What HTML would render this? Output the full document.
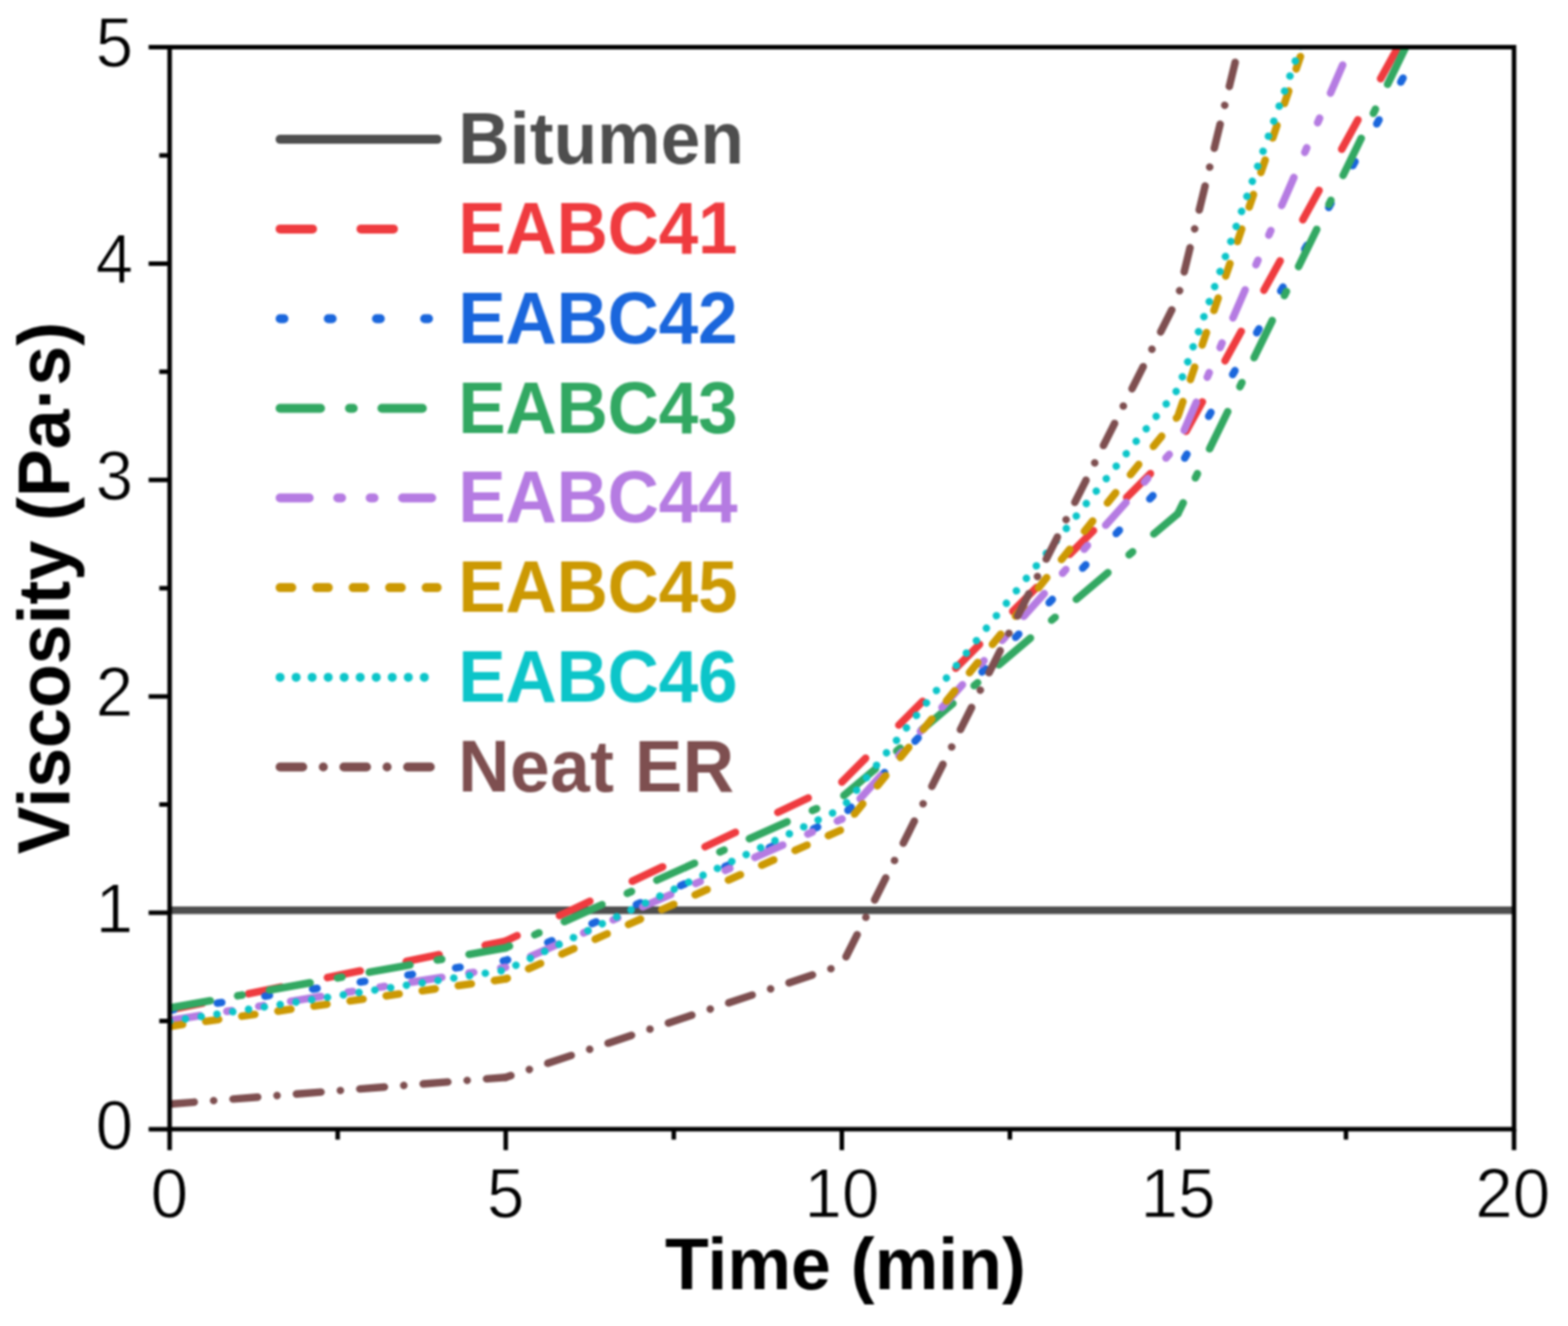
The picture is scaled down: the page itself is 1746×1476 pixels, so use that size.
<!DOCTYPE html>
<html lang="en"><head><meta charset="utf-8"><title>Viscosity vs Time</title>
<style>
html,body{margin:0;padding:0;background:#fff;}
body{width:1746px;height:1476px;overflow:hidden;}
svg{display:block;}
text{font-family:"Liberation Sans",sans-serif;}
.tick{font-size:75px;fill:#000;stroke:#fff;stroke-width:1;stroke-linejoin:round;}
.title{font-size:79.75px;font-weight:bold;fill:#000;}
.leg{font-size:79.2px;font-weight:bold;}
.curve{fill:none;stroke-width:8.4;stroke-linecap:round;}
.samp{fill:none;stroke-width:10;stroke-linecap:round;}
.ax{stroke:#000;stroke-width:5;fill:none;stroke-linecap:butt;stroke-linejoin:miter;}
</style></head><body>
<svg width="1746" height="1476" viewBox="0 0 1746 1476" role="img" aria-label="Viscosity versus time chart">
<defs><clipPath id="plot"><rect x="188.9" y="52.5" width="1497" height="1204.4"/></clipPath>
<filter id="soft" color-interpolation-filters="sRGB" filterUnits="userSpaceOnUse" x="-20" y="-20" width="1786" height="1516"><feGaussianBlur stdDeviation="0.8"/></filter></defs>
<g filter="url(#soft)">
<rect x="-20" y="-20" width="1786" height="1516" fill="#ffffff"/>
<g clip-path="url(#plot)">
<path class="curve" d="M188.90,1013.20 H1685.90" stroke="#4E4E4E" stroke-width="9.2" stroke-linecap="butt"/>
<path class="curve" d="M188.90,1124.20 L563.15,1047.50" stroke="#EF3B3F" stroke-dasharray="37.4 52.25"/>
<path class="curve" d="M563.15,1047.50 L937.40,870.50" stroke="#EF3B3F" stroke-dasharray="37.4 52.25" stroke-dashoffset="23.43"/>
<path class="curve" d="M937.40,870.50 L1311.65,496.70" stroke="#EF3B3F" stroke-dasharray="37.4 52.25" stroke-dashoffset="89.62"/>
<path class="curve" d="M1311.65,496.70 L1573.25,22.50" stroke="#EF3B3F" stroke-dasharray="37.4 52.25" stroke-dashoffset="70.68"/>
<path class="curve" d="M188.90,1124.50 L563.15,1069.20" stroke="#1A66DC" stroke-dasharray="5 48.65"/>
<path class="curve" d="M563.15,1069.20 L937.40,909.00" stroke="#1A66DC" stroke-dasharray="5 48.65" stroke-dashoffset="2.76"/>
<path class="curve" d="M937.40,909.00 L1311.65,523.00" stroke="#1A66DC" stroke-dasharray="5 48.65" stroke-dashoffset="43.91"/>
<path class="curve" d="M1311.65,523.00 L1599.34,22.50" stroke="#1A66DC" stroke-dasharray="5 48.65" stroke-dashoffset="38.55"/>
<path class="curve" d="M188.90,1122.00 L563.15,1055.00" stroke="#32A862" stroke-dasharray="46 30.9 5.1 30.9"/>
<path class="curve" d="M563.15,1055.00 L937.40,887.50" stroke="#32A862" stroke-dasharray="46 30.9 5.1 30.9" stroke-dashoffset="41.50"/>
<path class="curve" d="M937.40,887.50 L1311.65,571.70" stroke="#32A862" stroke-dasharray="46 30.9 5.1 30.9" stroke-dashoffset="109.92"/>
<path class="curve" d="M1311.65,571.70 L1579.96,22.50" stroke="#32A862" stroke-dasharray="46 30.9 5.1 30.9" stroke-dashoffset="32.61"/>
<path class="curve" d="M188.90,1135.80 L563.15,1076.70" stroke="#B57BE2" stroke-dasharray="34 30.47 5.5 30.47 5.5 30.46"/>
<path class="curve" d="M563.15,1076.70 L937.40,911.70" stroke="#B57BE2" stroke-dasharray="34 30.47 5.5 30.47 5.5 30.46" stroke-dashoffset="106.09"/>
<path class="curve" d="M937.40,911.70 L1311.65,495.00" stroke="#B57BE2" stroke-dasharray="34 30.47 5.5 30.47 5.5 30.46" stroke-dashoffset="105.90"/>
<path class="curve" d="M1311.65,495.00 L1516.72,22.50" stroke="#B57BE2" stroke-dasharray="34 30.47 5.5 30.47 5.5 30.46" stroke-dashoffset="118.89"/>
<path class="curve" d="M188.90,1142.50 L563.15,1089.70" stroke="#CC9903" stroke-dasharray="14.6 25.98"/>
<path class="curve" d="M563.15,1089.70 L937.40,923.50" stroke="#CC9903" stroke-dasharray="14.6 25.98" stroke-dashoffset="12.74"/>
<path class="curve" d="M937.40,923.50 L1311.65,463.30" stroke="#CC9903" stroke-dasharray="14.6 25.98" stroke-dashoffset="18.23"/>
<path class="curve" d="M1311.65,463.30 L1461.82,22.50" stroke="#CC9903" stroke-dasharray="14.6 25.98" stroke-dashoffset="37.98"/>
<path class="curve" d="M188.90,1136.90 L563.15,1079.90" stroke="#0CC5C9" stroke-dasharray="0.01 17.77"/>
<path class="curve" d="M563.15,1079.90 L937.40,900.00" stroke="#0CC5C9" stroke-dasharray="0.01 17.77" stroke-dashoffset="5.19"/>
<path class="curve" d="M937.40,900.00 L1311.65,433.30" stroke="#0CC5C9" stroke-dasharray="0.01 17.77" stroke-dashoffset="9.39"/>
<path class="curve" d="M1311.65,433.30 L1458.63,22.50" stroke="#0CC5C9" stroke-dasharray="0.01 17.77" stroke-dashoffset="3.09"/>
<path class="curve" d="M188.90,1229.00 L563.15,1199.20" stroke="#7E4F50" stroke-dasharray="27.5 21.65 0.01 21.64"/>
<path class="curve" d="M563.15,1199.20 L937.40,1074.30" stroke="#7E4F50" stroke-dasharray="27.5 21.65 0.01 21.64" stroke-dashoffset="21.43"/>
<path class="curve" d="M937.40,1074.30 L1311.65,331.30" stroke="#7E4F50" stroke-dasharray="27.5 21.65 0.01 21.64" stroke-dashoffset="60.38"/>
<path class="curve" d="M1311.65,331.30 L1386.80,22.50" stroke="#7E4F50" stroke-dasharray="27.5 21.65 0.01 21.64" stroke-dashoffset="41.21"/>
</g>
<rect class="ax" x="188.9" y="52.5" width="1497" height="1204.4"/>
<path class="ax" d="M188.90,1256.90 V1280.30 M376.02,1256.90 V1268.40 M563.15,1256.90 V1280.30 M750.27,1256.90 V1268.40 M937.40,1256.90 V1280.30 M1124.53,1256.90 V1268.40 M1311.65,1256.90 V1280.30 M1498.78,1256.90 V1268.40 M1685.90,1256.90 V1280.30 M188.90,1256.90 H165.50 M188.90,1136.46 H177.40 M188.90,1016.02 H165.50 M188.90,895.58 H177.40 M188.90,775.14 H165.50 M188.90,654.70 H177.40 M188.90,534.26 H165.50 M188.90,413.82 H177.40 M188.90,293.38 H165.50 M188.90,172.94 H177.40 M188.90,52.50 H165.50"/>
<text class="tick" transform="translate(188.50,1354.90) scale(1,1.04)" text-anchor="middle">0</text>
<text class="tick" transform="translate(563.15,1354.90) scale(1,1.04)" text-anchor="middle">5</text>
<text class="tick" transform="translate(937.40,1354.90) scale(1,1.04)" text-anchor="middle">10</text>
<text class="tick" transform="translate(1311.65,1354.90) scale(1,1.04)" text-anchor="middle">15</text>
<text class="tick" transform="translate(1684.40,1354.90) scale(1,1.04)" text-anchor="middle">20</text>
<text class="tick" transform="translate(148.20,1278.70) scale(1,1.04)" text-anchor="end">0</text>
<text class="tick" transform="translate(148.20,1037.82) scale(1,1.04)" text-anchor="end">1</text>
<text class="tick" transform="translate(148.20,796.94) scale(1,1.04)" text-anchor="end">2</text>
<text class="tick" transform="translate(148.20,556.06) scale(1,1.04)" text-anchor="end">3</text>
<text class="tick" transform="translate(148.20,315.18) scale(1,1.04)" text-anchor="end">4</text>
<text class="tick" transform="translate(148.20,74.30) scale(1,1.04)" text-anchor="end">5</text>
<text class="title" transform="translate(941.40,1434.60) scale(1,1.015)" text-anchor="middle">Time (min)</text>
<text class="title" transform="translate(76.70,654.50) rotate(-90) scale(1,1.015)" text-anchor="middle">Viscosity (Pa·s)</text>
<path class="samp" d="M311.90,155.10 H486.80" stroke="#4E4E4E"/>
<text class="leg" transform="translate(510.30,182.10) scale(1,1.025)" fill="#4E4E4E" letter-spacing="0.2">Bitumen</text>
<path class="samp" d="M311.90,254.90 H486.80" stroke="#EF3B3F" stroke-dasharray="36.1 54"/>
<text class="leg" transform="translate(510.30,281.90) scale(1,1.04)" fill="#EF3B3F" letter-spacing="-0.3">EABC41</text>
<path class="samp" d="M311.90,354.70 H486.80" stroke="#1A66DC" stroke-dasharray="4.3 49.35"/>
<text class="leg" transform="translate(510.30,381.70) scale(1,1.04)" fill="#1A66DC" letter-spacing="-0.3">EABC42</text>
<path class="samp" d="M311.90,454.50 H486.80" stroke="#32A862" stroke-dasharray="45 32.3 4.1 32"/>
<text class="leg" transform="translate(510.30,481.50) scale(1,1.04)" fill="#32A862" letter-spacing="-0.3">EABC43</text>
<path class="samp" d="M311.90,554.30 H486.80" stroke="#B57BE2" stroke-dasharray="32.4 31.8 4.3 31.8 4.3 31.8"/>
<text class="leg" transform="translate(510.30,581.30) scale(1,1.04)" fill="#B57BE2" letter-spacing="-0.3">EABC44</text>
<path class="samp" d="M311.90,654.10 H486.80" stroke="#CC9903" stroke-dasharray="13 27.66"/>
<text class="leg" transform="translate(510.30,681.10) scale(1,1.04)" fill="#CC9903" letter-spacing="-0.3">EABC45</text>
<path class="samp" d="M311.90,753.90 H486.80" stroke="#0CC5C9" stroke-dasharray="0.01 17.83"/>
<text class="leg" transform="translate(510.30,780.90) scale(1,1.04)" fill="#0CC5C9" letter-spacing="-0.3">EABC46</text>
<path class="samp" d="M311.90,853.70 H486.80" stroke="#7E4F50" stroke-dasharray="25.2 22.9 0.01 22.9"/>
<text class="leg" transform="translate(510.30,880.70) scale(1,1.025)" fill="#7E4F50" letter-spacing="0.6">Neat ER</text>
</g>
</svg>
</body></html>
